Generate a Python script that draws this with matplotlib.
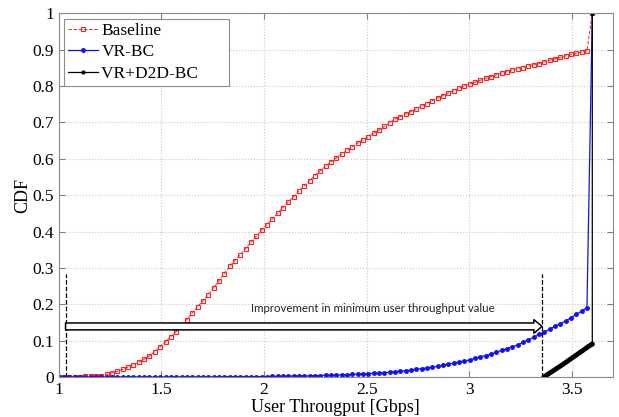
import numpy as np
import matplotlib
matplotlib.use("Agg")
import matplotlib.pyplot as plt
from matplotlib.patches import FancyArrow

# sample grid of throughput thresholds (Gbps), shared by Baseline and VR-BC
grid_x = np.linspace(1.0, 3.574, 100)

baseline_y = [
    0.000, 0.000, 0.000, 0.001, 0.001, 0.002, 0.002, 0.003, 0.004, 0.007,
    0.011, 0.016, 0.021, 0.027, 0.034, 0.041, 0.049, 0.058, 0.070, 0.083,
    0.097, 0.111, 0.125, 0.141, 0.158, 0.176, 0.193, 0.209, 0.226, 0.245,
    0.264, 0.284, 0.304, 0.320, 0.336, 0.353, 0.370, 0.387, 0.403, 0.419,
    0.435, 0.450, 0.466, 0.481, 0.496, 0.511, 0.526, 0.540, 0.554, 0.567,
    0.580, 0.591, 0.602, 0.613, 0.623, 0.633, 0.643, 0.652, 0.661, 0.670,
    0.679, 0.689, 0.699, 0.709, 0.716, 0.723, 0.730, 0.737, 0.745, 0.752,
    0.760, 0.767, 0.774, 0.781, 0.787, 0.794, 0.800, 0.805, 0.810, 0.816,
    0.821, 0.826, 0.831, 0.836, 0.840, 0.844, 0.848, 0.851, 0.855, 0.859,
    0.862, 0.866, 0.871, 0.875, 0.879, 0.883, 0.887, 0.890, 0.894, 0.897,
]

vrbc_y = [
    0.000, 0.000, 0.000, 0.000, 0.000, 0.000, 0.000, 0.000, 0.000, 0.000,
    0.000, 0.000, 0.000, 0.000, 0.000, 0.000, 0.000, 0.000, 0.000, 0.000,
    0.000, 0.000, 0.000, 0.000, 0.000, 0.000, 0.000, 0.000, 0.000, 0.000,
    0.001, 0.001, 0.001, 0.001, 0.001, 0.001, 0.001, 0.001, 0.001, 0.001,
    0.002, 0.002, 0.002, 0.002, 0.003, 0.003, 0.003, 0.003, 0.004, 0.004,
    0.005, 0.005, 0.005, 0.006, 0.006, 0.007, 0.008, 0.009, 0.009, 0.010,
    0.011, 0.012, 0.013, 0.015, 0.016, 0.017, 0.019, 0.021, 0.023, 0.025,
    0.027, 0.029, 0.032, 0.035, 0.038, 0.041, 0.044, 0.047, 0.051, 0.055,
    0.059, 0.063, 0.068, 0.073, 0.078, 0.083, 0.088, 0.095, 0.102, 0.109,
    0.117, 0.124, 0.131, 0.139, 0.146, 0.154, 0.163, 0.172, 0.181, 0.191,
]

# final jump to 1 at the max throughput
end_x = 3.6
end_y = 1.0

d2d_x = [3.364, 3.385, 3.407, 3.428, 3.450, 3.471, 3.493, 3.514, 3.536, 3.557, 3.579, 3.600]
d2d_y = [0.000, 0.008, 0.016, 0.024, 0.032, 0.040, 0.049, 0.057, 0.066, 0.074, 0.083, 0.091]

arrow_start = 1.033
arrow_end = 3.355
arrow_level = 0.139
annot_text = "Improvement in minimum user throughput value"

plt.rcParams['font.family'] = ['Liberation Serif', 'DejaVu Serif']

fig = plt.figure(figsize=(6.19, 4.17), dpi=100)
ax = fig.add_axes([0.095, 0.096, 0.895, 0.872])

bx = list(grid_x) + [end_x]
ax.plot(bx, baseline_y + [end_y], color='#ff2020', ls='--', lw=0.7,
        marker='s', ms=3.0, mfc='none', mew=0.8, label='Baseline')
ax.plot(bx, vrbc_y + [end_y], color='#1010ff', ls='-', lw=0.9,
        marker='.', ms=5, label='VR-BC')
ax.plot(d2d_x, d2d_y, color='black', lw=3.5, solid_capstyle='round')
# trailing spaces give the wide right margin of the MATLAB legend
ax.plot(d2d_x + [end_x], d2d_y + [end_y], color='black', lw=0.9,
        marker='.', ms=4, markevery=[len(d2d_x), len(d2d_x) - 1],
        label='VR+D2D-BC' + '\u00a0' * 6)

# dashed markers of min throughput
for xv in (arrow_start, arrow_end):
    ax.plot([xv, xv], [0, 0.284], color='black', ls='--', lw=0.9)

arr = FancyArrow(arrow_start, arrow_level, arrow_end - arrow_start, 0,
                 width=0.019, head_width=0.038, head_length=0.04,
                 length_includes_head=True, fc='white', ec='black', lw=1.1, zorder=4)
ax.add_patch(arr)
ax.text(2.53, 0.187, annot_text, fontsize=8.3, family=['Lato', 'DejaVu Sans'],
        ha='center', va='center', color='#222222')

ax.set_xlim(1, 3.7)
ax.set_ylim(0, 1)
ax.set_xticks([1, 1.5, 2, 2.5, 3, 3.5])
ax.set_xticklabels(['1', '1.5', '2', '2.5', '3', '3.5'])
ax.set_yticks(np.round(np.arange(0, 1.01, 0.1), 1))
ax.set_yticklabels(['0', '0.1', '0.2', '0.3', '0.4', '0.5', '0.6', '0.7', '0.8', '0.9', '1'])
ax.tick_params(direction='in', top=True, right=True, labelsize=12.5, length=4, color='#808080')
for s in ax.spines.values():
    s.set_color('#8c8c8c')
ax.grid(True, ls=':', color='#c8c8c8', lw=0.8)

ax.set_xlabel('User Througput [Gbps]', fontsize=13, labelpad=1)
ax.set_ylabel('CDF', fontsize=13, labelpad=1)

leg = ax.legend(loc='upper left', fontsize=12.5, fancybox=False, framealpha=1,
                edgecolor='#8c8c8c', borderaxespad=0.3, handlelength=1.7,
                handletextpad=0.2, labelspacing=0.3, borderpad=0.25)
leg.get_frame().set_linewidth(0.8)

fig.savefig('out.png', dpi=100)
